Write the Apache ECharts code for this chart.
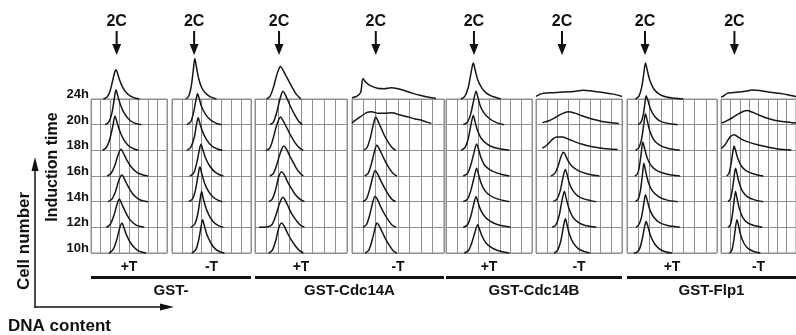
<!DOCTYPE html>
<html>
<head>
<meta charset="utf-8">
<script src="https://cdn.jsdelivr.net/npm/echarts/dist/echarts.min.js"></script>
<style>
html, body { margin: 0; padding: 0; background: #fff; }
#chart_flow { width: 796px; height: 335px; }
</style>
</head>
<body>
<div id="chart_flow"></div>
<script>
// induction times, top row first
var times = ['24h', '20h', '18h', '16h', '14h', '12h', '10h'];
var treatments = ['+T', '-T', '+T', '-T', '+T', '-T', '+T', '-T'];
var groups = ['GST-', 'GST-Cdc14A', 'GST-Cdc14B', 'GST-Flp1'];
// 2C peak position (DNA content, grid columns) for each panel
var twoC = [2.7, 2.24, 2.09, 2.07, 2.6, 2.42, 1.6, 1.43];

// histograms: [DNA content, cell number] per time (24h ... 10h)
var gstPlus = [
    [[1.3,0],[1.7,0.08],[2.0,0.3],[2.3,0.75],[2.5,1.05],[2.6,1.14],[2.75,1.05],[3.0,0.75],[3.3,0.48],[3.7,0.25],[4.2,0.1],[4.7,0.03],[5.1,0]],
    [[1.5,0],[1.9,0.12],[2.2,0.45],[2.45,1.0],[2.63,1.36],[2.8,1.15],[3.1,0.78],[3.5,0.45],[4.0,0.2],[4.6,0.06],[5.3,0]],
    [[1.2,0],[1.6,0.1],[1.95,0.4],[2.3,0.95],[2.53,1.34],[2.7,1.15],[3.0,0.78],[3.4,0.45],[3.9,0.2],[4.5,0.06],[5.0,0]],
    [[1.7,0],[2.1,0.1],[2.5,0.4],[2.85,0.82],[3.16,1.04],[3.4,0.9],[3.8,0.6],[4.3,0.32],[4.9,0.12],[5.5,0.04],[6.0,0]],
    [[1.8,0],[2.2,0.1],[2.6,0.42],[2.95,0.85],[3.26,1.04],[3.5,0.9],[3.9,0.6],[4.4,0.3],[5.0,0.1],[5.5,0.03],[6.0,0]],
    [[1.6,0],[2.0,0.1],[2.4,0.45],[2.75,0.9],[2.98,1.1],[3.2,0.95],[3.6,0.62],[4.1,0.3],[4.7,0.1],[5.2,0.03],[5.6,0]],
    [[1.9,0],[2.3,0.12],[2.7,0.5],[3.0,0.95],[3.26,1.17],[3.45,1.0],[3.8,0.65],[4.3,0.32],[4.9,0.1],[5.4,0.03],[5.8,0]]
];
var gstMinus = [
    [[1.4,0],[1.7,0.12],[1.95,0.5],[2.15,1.1],[2.31,1.58],[2.45,1.3],[2.7,0.8],[3.0,0.45],[3.4,0.22],[3.9,0.08],[4.5,0]],
    [[1.5,0],[1.9,0.12],[2.2,0.5],[2.42,0.95],[2.59,1.2],[2.75,1.02],[3.0,0.7],[3.4,0.4],[3.9,0.18],[4.5,0.05],[5.0,0]],
    [[1.5,0],[1.9,0.12],[2.25,0.5],[2.48,1.0],[2.65,1.27],[2.8,1.08],[3.1,0.72],[3.5,0.42],[4.0,0.18],[4.6,0.05],[5.1,0]],
    [[1.8,0],[2.2,0.12],[2.5,0.5],[2.75,0.98],[2.93,1.24],[3.1,1.05],[3.4,0.7],[3.8,0.4],[4.3,0.17],[4.8,0.05],[5.2,0]],
    [[1.7,0],[2.1,0.12],[2.4,0.5],[2.65,1.05],[2.82,1.36],[3.0,1.12],[3.3,0.72],[3.7,0.4],[4.2,0.16],[4.7,0.05],[5.1,0]],
    [[1.9,0],[2.3,0.12],[2.6,0.5],[2.83,1.05],[3.0,1.4],[3.15,1.15],[3.45,0.74],[3.85,0.4],[4.3,0.17],[4.8,0.05],[5.2,0]],
    [[2.0,0],[2.4,0.12],[2.7,0.5],[2.93,1.0],[3.1,1.3],[3.25,1.1],[3.55,0.7],[3.95,0.38],[4.4,0.15],[4.9,0.04],[5.3,0]]
];
var cdcAPlus = [
    [[1.0,0],[1.3,0.1],[1.6,0.45],[1.9,0.95],[2.1,1.2],[2.23,1.27],[2.4,1.15],[2.7,0.9],[3.0,0.65],[3.3,0.4],[3.6,0.18],[4.0,0]],
    [[1.3,0],[1.6,0.1],[1.9,0.5],[2.2,1.05],[2.43,1.3],[2.6,1.2],[2.9,0.9],[3.2,0.6],[3.5,0.35],[3.8,0.13],[4.1,0]],
    [[0.95,0],[1.3,0.1],[1.6,0.5],[1.9,1.0],[2.23,1.3],[2.45,1.15],[2.8,0.85],[3.1,0.58],[3.45,0.32],[3.8,0.12],[4.2,0]],
    [[1.3,0],[1.6,0.1],[1.9,0.45],[2.2,0.9],[2.5,1.17],[2.7,1.08],[3.0,0.8],[3.3,0.55],[3.6,0.3],[3.9,0.12],[4.2,0]],
    [[1.2,0],[1.5,0.1],[1.8,0.48],[2.05,0.95],[2.3,1.17],[2.5,1.08],[2.8,0.8],[3.15,0.52],[3.5,0.28],[3.9,0.1],[4.3,0]],
    [[0.35,0],[1.1,0.02],[1.5,0.12],[1.8,0.45],[2.15,0.95],[2.43,1.17],[2.6,1.08],[2.9,0.8],[3.2,0.52],[3.6,0.26],[3.95,0.08],[4.3,0]],
    [[1.2,0],[1.5,0.1],[1.8,0.48],[2.05,0.95],[2.3,1.17],[2.5,1.08],[2.8,0.8],[3.1,0.55],[3.5,0.28],[3.85,0.1],[4.2,0]]
];
var cdcAMinus = [
    [[0,0.05],[0.4,0.1],[0.75,0.25],[0.95,0.8],[1.2,0.65],[1.6,0.52],[2.2,0.42],[2.8,0.4],[3.4,0.44],[4.0,0.4],[4.6,0.32],[5.3,0.22],[6.0,0.14],[6.7,0.07],[7.3,0.02]],
    [[0,0.05],[0.15,0.13],[0.7,0.3],[1.3,0.48],[1.7,0.5],[2.3,0.44],[2.9,0.44],[3.45,0.46],[4.2,0.38],[4.9,0.3],[5.5,0.22],[6.0,0.18],[6.5,0.1],[6.9,0.05]],
    [[1.0,0],[1.3,0.1],[1.6,0.5],[1.85,1.0],[2.07,1.3],[2.25,1.15],[2.55,0.85],[2.85,0.55],[3.2,0.28],[3.5,0.1],[3.8,0]],
    [[1.1,0],[1.4,0.1],[1.7,0.5],[1.95,0.95],[2.16,1.2],[2.35,1.08],[2.65,0.8],[2.95,0.52],[3.3,0.26],[3.6,0.09],[3.9,0]],
    [[0.95,0],[1.25,0.1],[1.55,0.5],[1.8,0.95],[2.0,1.2],[2.2,1.1],[2.5,0.82],[2.85,0.52],[3.2,0.25],[3.5,0.08],[3.8,0]],
    [[0.95,0],[1.25,0.1],[1.55,0.5],[1.8,0.97],[2.0,1.2],[2.2,1.1],[2.5,0.8],[2.85,0.5],[3.2,0.25],[3.5,0.08],[3.85,0]],
    [[1.15,0],[1.45,0.1],[1.75,0.5],[2.0,0.95],[2.16,1.17],[2.35,1.07],[2.65,0.8],[2.95,0.52],[3.3,0.26],[3.6,0.08],[3.9,0]]
];
var cdcBPlus = [
    [[1.4,0],[1.75,0.1],[2.05,0.42],[2.3,0.95],[2.54,1.4],[2.7,1.15],[2.95,0.75],[3.3,0.45],[3.7,0.25],[4.2,0.12],[4.7,0.05],[5.1,0]],
    [[1.6,0],[2.0,0.1],[2.3,0.42],[2.55,0.9],[2.8,1.3],[2.95,1.1],[3.2,0.72],[3.6,0.42],[4.1,0.22],[4.6,0.1],[5.0,0.04],[5.4,0]],
    [[1.4,0],[1.75,0.1],[2.05,0.42],[2.3,0.95],[2.54,1.36],[2.7,1.12],[2.95,0.75],[3.3,0.45],[3.8,0.25],[4.4,0.12],[5.1,0.05],[5.9,0]],
    [[1.6,0],[2.0,0.1],[2.3,0.42],[2.6,0.9],[2.85,1.25],[3.0,1.08],[3.25,0.72],[3.6,0.42],[4.1,0.24],[4.7,0.12],[5.3,0.05],[5.9,0]],
    [[1.6,0],[2.0,0.1],[2.3,0.42],[2.6,0.92],[2.85,1.3],[3.0,1.1],[3.25,0.74],[3.6,0.44],[4.1,0.24],[4.7,0.12],[5.3,0.05],[5.9,0]],
    [[1.6,0],[2.0,0.1],[2.3,0.42],[2.55,0.85],[2.8,1.2],[2.95,1.02],[3.2,0.7],[3.6,0.42],[4.1,0.24],[4.7,0.12],[5.4,0.05],[6.0,0]],
    [[1.7,0],[2.1,0.1],[2.4,0.4],[2.7,0.82],[2.95,1.1],[3.1,0.95],[3.35,0.66],[3.7,0.4],[4.2,0.22],[4.8,0.1],[5.4,0.04],[5.9,0]]
];
var cdcBMinus = [
    [[0,0.1],[0.6,0.22],[1.2,0.24],[1.9,0.25],[2.5,0.27],[3.1,0.28],[3.8,0.31],[4.4,0.34],[5.0,0.32],[5.7,0.28],[6.4,0.24],[7.1,0.2],[7.6,0.15],[8,0.1]],
    [[0.6,0.08],[1.2,0.15],[1.8,0.28],[2.4,0.42],[3.0,0.5],[3.6,0.45],[4.2,0.36],[4.9,0.26],[5.6,0.18],[6.3,0.11],[7.0,0.07],[7.7,0.05]],
    [[0.6,0.09],[1.0,0.2],[1.5,0.42],[1.9,0.52],[2.5,0.52],[3.1,0.42],[3.7,0.32],[4.3,0.24],[5.0,0.16],[5.8,0.1],[6.8,0.05],[7.6,0.03]],
    [[1.4,0],[1.75,0.1],[2.05,0.38],[2.3,0.72],[2.54,0.93],[2.7,0.85],[2.95,0.62],[3.3,0.4],[3.8,0.24],[4.4,0.13],[5.1,0.05],[5.9,0]],
    [[1.6,0],[1.95,0.1],[2.25,0.42],[2.5,0.92],[2.73,1.25],[2.88,1.08],[3.1,0.72],[3.45,0.42],[3.9,0.22],[4.5,0.1],[5.1,0.04],[5.6,0]],
    [[1.5,0],[1.85,0.1],[2.15,0.45],[2.4,1.0],[2.64,1.4],[2.8,1.15],[3.05,0.75],[3.4,0.42],[3.9,0.2],[4.5,0.08],[5.1,0.03],[5.6,0]],
    [[1.7,0],[2.0,0.1],[2.3,0.45],[2.52,0.95],[2.73,1.33],[2.88,1.12],[3.1,0.74],[3.45,0.4],[3.9,0.18],[4.4,0.07],[5.0,0]]
];
var flpPlus = [
    [[0.75,0],[1.05,0.1],[1.3,0.45],[1.48,0.95],[1.64,1.4],[1.8,1.12],[2.05,0.7],[2.4,0.38],[2.9,0.18],[3.5,0.08],[4.2,0.03],[5.0,0]],
    [[1.0,0],[1.25,0.1],[1.45,0.4],[1.58,0.8],[1.7,1.13],[1.85,0.95],[2.1,0.6],[2.45,0.33],[2.9,0.15],[3.5,0.06],[4.5,0]],
    [[0.75,0],[1.05,0.1],[1.3,0.45],[1.48,0.98],[1.64,1.43],[1.8,1.15],[2.05,0.72],[2.4,0.4],[2.9,0.2],[3.6,0.08],[4.7,0]],
    [[0.7,0],[0.95,0.1],[1.12,0.42],[1.27,0.9],[1.4,1.32],[1.55,1.1],[1.8,0.7],[2.15,0.4],[2.7,0.2],[3.5,0.08],[4.7,0]],
    [[0.75,0],[1.0,0.1],[1.2,0.45],[1.36,1.0],[1.5,1.5],[1.65,1.2],[1.9,0.75],[2.25,0.42],[2.8,0.2],[3.5,0.07],[4.5,0]],
    [[0.8,0],[1.05,0.1],[1.3,0.42],[1.48,0.88],[1.64,1.27],[1.8,1.05],[2.05,0.66],[2.4,0.38],[2.9,0.18],[3.6,0.07],[4.7,0]],
    [[0.6,0],[0.9,0.04],[1.15,0.2],[1.38,0.6],[1.55,1.0],[1.7,1.23],[1.85,1.05],[2.1,0.66],[2.45,0.36],[2.9,0.15],[3.4,0.05],[4.0,0]]
];
var flpMinus = [
    [[0,0.08],[0.2,0.1],[0.66,0.22],[1.3,0.25],[1.85,0.27],[2.6,0.3],[3.34,0.35],[4.1,0.33],[4.8,0.29],[5.7,0.24],[6.6,0.2],[7.3,0.15],[8,0.1]],
    [[0.06,0.06],[0.6,0.15],[1.25,0.28],[2.0,0.45],[2.75,0.55],[3.4,0.48],[3.94,0.39],[4.7,0.28],[5.4,0.2],[6.0,0.15],[6.6,0.12],[7.3,0.09],[8,0.06]],
    [[0.06,0.07],[0.5,0.25],[0.96,0.52],[1.4,0.61],[1.9,0.5],[2.45,0.39],[3.2,0.29],[3.8,0.23],[4.5,0.17],[5.5,0.09],[6.6,0.03],[7.5,0.01]],
    [[0.6,0],[0.85,0.1],[1.05,0.42],[1.23,0.85],[1.4,1.17],[1.55,1.0],[1.8,0.68],[2.15,0.4],[2.7,0.2],[3.5,0.08],[4.5,0]],
    [[0.75,0],[1.0,0.1],[1.2,0.45],[1.38,0.92],[1.55,1.3],[1.7,1.1],[1.95,0.72],[2.3,0.4],[2.8,0.2],[3.5,0.08],[4.5,0]],
    [[0.75,0],[1.0,0.1],[1.2,0.45],[1.38,0.98],[1.55,1.4],[1.7,1.15],[1.95,0.74],[2.3,0.4],[2.8,0.18],[3.5,0.07],[4.4,0]],
    [[0.9,0],[1.15,0.1],[1.35,0.45],[1.52,0.92],[1.7,1.3],[1.85,1.1],[2.1,0.7],[2.45,0.38],[2.9,0.17],[3.5,0.06],[4.2,0]]
];
var panels = [gstPlus, gstMinus, cdcAPlus, cdcAMinus, cdcBPlus, cdcBMinus, flpPlus, flpMinus];

// layout (pixels)
var panelLeft = [91, 172, 255, 352, 446, 536, 627, 721];
var panelWidth = [76, 79, 92, 92, 86, 86, 90, 90];
var gridTop = 99, gridHeight = 154;

var FONT = '"Liberation Sans", Arial, Helvetica, sans-serif';
var ink = '#111';
var gridColor = '#8f8f8f';

var myChart = echarts.init(document.getElementById('chart_flow'));

var grids = [], xAxes = [], yAxes = [], series = [];
panels.forEach(function (panel, p) {
    grids.push({
        left: panelLeft[p], top: gridTop, width: panelWidth[p], height: gridHeight,
        show: true, borderColor: gridColor, borderWidth: 1, backgroundColor: 'transparent'
    });
    xAxes.push({
        type: 'value', gridIndex: p, min: 0, max: 8, interval: 1,
        axisLine: {show: false}, axisTick: {show: false}, axisLabel: {show: false},
        splitLine: {show: true, lineStyle: {color: gridColor, width: 1}},
        name: treatments[p], nameLocation: 'middle', nameGap: 7,
        nameTextStyle: {fontFamily: FONT, fontWeight: 'bold', fontSize: 14, color: ink}
    });
    yAxes.push({
        type: 'value', gridIndex: p, min: 0, max: 6, interval: 1,
        axisLine: {show: false}, axisTick: {show: false},
        axisLabel: {
            show: p === 0, margin: 2, fontFamily: FONT, fontWeight: 'bold', fontSize: 13,
            color: ink, verticalAlign: 'bottom', lineHeight: 9,
            formatter: function (v) { return times[6 - v]; }
        },
        splitLine: {show: true, lineStyle: {color: gridColor, width: 1}}
    });
    panel.forEach(function (curve, r) {
        var base = 6 - r;  // each time sits on its own row
        series.push({
            type: 'line', xAxisIndex: p, yAxisIndex: p,
            name: groups[Math.floor(p / 2)] + ' ' + treatments[p] + ' ' + times[r],
            data: curve.map(function (d) { return [d[0], base + d[1]]; }),
            smooth: 0.3, symbol: 'none', clip: false, silent: true,
            lineStyle: {color: '#161616', width: 1.5}
        });
    });
});

myChart.setOption({
    animation: false,
    backgroundColor: '#fff',
    grid: grids,
    xAxis: xAxes,
    yAxis: yAxes,
    series: series
});

// annotations
var graphics = [];
twoC.forEach(function (v, p) {
    var x = myChart.convertToPixel({xAxisIndex: p}, v);
    graphics.push({
        type: 'text', x: x, y: 22,
        style: {text: '2C', font: 'bold 16px ' + FONT, fill: ink, align: 'center', verticalAlign: 'middle'}
    });
    graphics.push({
        type: 'line', shape: {x1: x, y1: 31, x2: x, y2: 46},
        style: {stroke: ink, lineWidth: 2}
    });
    graphics.push({
        type: 'polygon', shape: {points: [[x - 4.5, 44], [x + 4.5, 44], [x, 55]]},
        style: {fill: ink}
    });
});
groups.forEach(function (g, i) {
    var x1 = panelLeft[2 * i];
    var x2 = Math.min(panelLeft[2 * i + 1] + panelWidth[2 * i + 1], 796);
    graphics.push({
        type: 'rect', shape: {x: x1, y: 276, width: x2 - x1, height: 3},
        style: {fill: ink}
    });
    graphics.push({
        type: 'text', x: (x1 + x2) / 2, y: 291,
        style: {text: g, font: 'bold 15px ' + FONT, fill: ink, align: 'center', verticalAlign: 'middle'}
    });
});
graphics.push({
    type: 'text', x: 53, y: 167, rotation: Math.PI / 2,
    style: {text: 'Induction time', font: 'bold 16px ' + FONT, fill: ink, align: 'center', verticalAlign: 'middle'}
});
graphics.push({
    type: 'text', x: 24, y: 241, rotation: Math.PI / 2,
    style: {text: 'Cell number', font: 'bold 17px ' + FONT, fill: ink, align: 'center', verticalAlign: 'middle'}
});
graphics.push({
    type: 'text', x: 8, y: 326,
    style: {text: 'DNA content', font: 'bold 17px ' + FONT, fill: ink, align: 'left', verticalAlign: 'middle'}
});
// cell number / DNA content arrows
graphics.push({type: 'line', shape: {x1: 35, y1: 307.5, x2: 35, y2: 168}, style: {stroke: ink, lineWidth: 1.5}});
graphics.push({type: 'polygon', shape: {points: [[31.5, 171], [38.5, 171], [35, 157]]}, style: {fill: ink}});
graphics.push({type: 'line', shape: {x1: 34.25, y1: 307, x2: 162, y2: 307}, style: {stroke: ink, lineWidth: 1.5}});
graphics.push({type: 'polygon', shape: {points: [[160, 303.5], [160, 310.5], [174, 307]]}, style: {fill: ink}});

myChart.setOption({graphic: graphics});

window.addEventListener('resize', function () {
    myChart.resize();
});
</script>
</body>
</html>
